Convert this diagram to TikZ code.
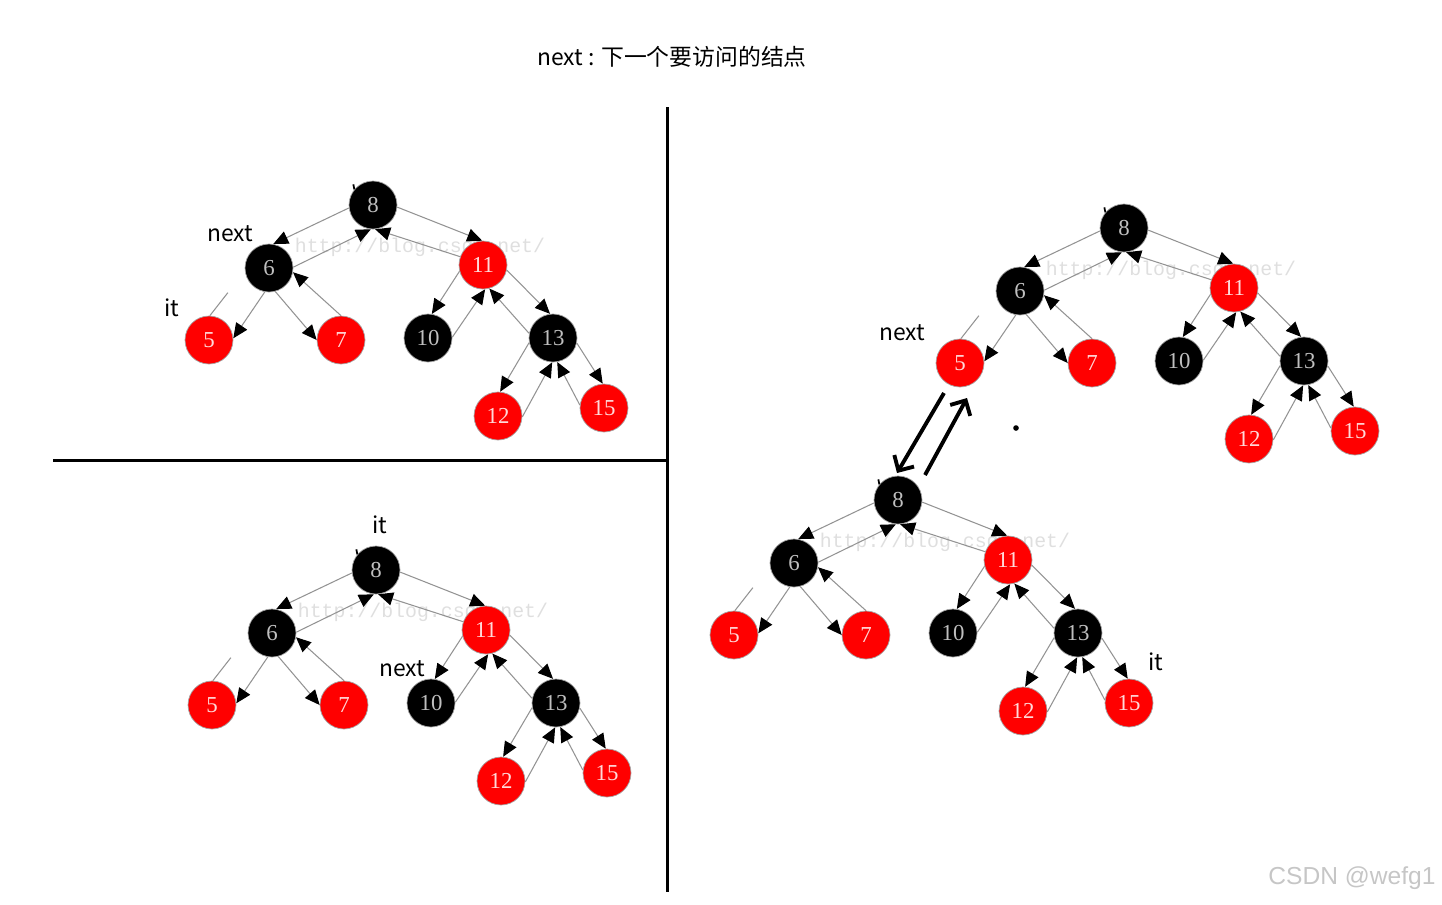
\documentclass[tikz,border=0pt]{standalone}
\usepackage{fontspec}
\setmainfont{Liberation Serif}
\newfontfamily\cjkfont{Noto Sans CJK SC}
\newfontfamily\wmfont{Liberation Mono}
\newfontfamily\csdnfont{Liberation Sans}
\usetikzlibrary{positioning,calc,arrows.meta}

\begin{document}
\begin{tikzpicture}
        [x=0.02cm,y=-0.02cm,
        rbnode/.style={circle,draw=gray!70,line width=0.4pt,minimum size=0.96cm,inner sep=0pt,font=\fontsize{13}{13}\selectfont},
        blknode/.style={rbnode,fill=black,text=gray!50},
        rednode/.style={rbnode,fill=red,text=white!85!red},
        edge/.style={draw=gray!85,line width=0.6pt,-{Triangle[length=8.5pt,width=7.5pt,color=black]}},
        stub/.style={draw=gray!85,line width=0.6pt},
        lbl/.style={font=\cjkfont\fontsize{13}{15}\selectfont},
        wmark/.style={font=\wmfont\fontsize{11.3}{12}\selectfont,text=gray!25},
        bigarrow/.style={line width=2.2pt,-{Straight Barb[length=6.5pt,width=13pt]}},
        divider/.style={line width=1.7pt}]
        \useasboundingbox (0,0) rectangle (1442,904);
        \node[lbl] (title) at (672,57) {next : 下一个要访问的结点};
        % four copies of the same tree
        \foreach \t/\x/\y in {a/373/205, b/376/570, c/1124/228, d/898/500}{
          \begin{scope}[shift={(\x,\y)}]
            \node[wmark] (\t wm) at (47,42) {http://blog.csdn.net/};
            \node[blknode] (\t8) at (0,0) {8};
            \node[blknode] (\t6) at (-104,63) {6};
            \node[rednode] (\t11) at (110,60) {11};
            \node[rednode] (\t5) at (-164,135) {5};
            \node[rednode] (\t7) at (-32,135) {7};
            \node[blknode] (\t10) at (55,133) {10};
            \node[blknode] (\t13) at (180,133) {13};
            \node[rednode] (\t12) at (125,211) {12};
            \node[rednode] (\t15) at (231,203) {15};
          \end{scope}
          \foreach \s/\e in {8.187/6.80, 6.2/8.-95, 8.-5/11.92, 11.160/8.-85,
                             6.-100/5.4, 6.-75/7.180, 7.90/6.-10,
                             11.195/10.81, 10.2/11.-85, 11.-12/13.97, 13.169/11.-75,
                             13.191/12.85, 12.-2/13.-92, 13.-12/15.93, 15.173/13.-80}
            \draw[edge] (\t\s) -- (\t\e);
          \draw[stub] (\t5.88) -- ++(18,-23);
          \draw[line width=1pt] (\t8.140) -- ++(-1,-5);
        }
        % it / next markers
        \node[lbl] (nexta) at ($(a6)+(-39,-34)$) {next};
        \node[lbl] (ita) at ($(a5)+(-37,-32)$) {it};
        \node[lbl] (itb) at ($(b8)+(4,-45)$) {it};
        \node[lbl] (nextb) at ($(b10)+(-29,-34)$) {next};
        \node[lbl] (nextc) at ($(c5)+(-58,-30)$) {next};
        \node[lbl] (itd) at ($(d15)+(27,-41)$) {it};
        % jump between the two trees
        \draw[bigarrow] ($(c5)+(-16,30)$) -- ($(d8)+(-1,-27)$);
        \draw[bigarrow] ($(d8)+(27,-25)$) -- ($(c5)+(7,35)$);
        \fill (1016,428) circle[radius=1.6pt];
        % dividers
        \draw[divider] (667,107) -- (667,892);
        \draw[divider] (53,460) -- (667,460);
        \node[font=\csdnfont\fontsize{14}{16}\selectfont,text=gray!45] (csdn) at (1352,878) {CSDN @wefg1};
\end{tikzpicture}
\end{document}
